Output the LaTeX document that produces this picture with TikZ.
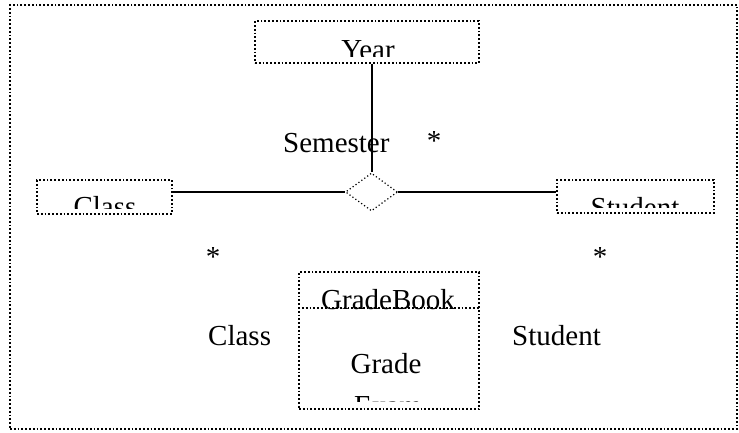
\documentclass[tikz,border=0pt]{standalone}
\usepackage{fontspec}
\setmainfont{Liberation Serif}
\usetikzlibrary{shapes.geometric}

\begin{document}
\begin{tikzpicture}[x=1pt, y=-1pt,
  box/.style={draw, line width=1.8pt, dash pattern=on 1.8pt off 2pt, inner sep=0pt},
  lbl/.style={font=\fontsize{29}{34}\selectfont, anchor=base, inner sep=0pt},
  link/.style={line width=2pt}]
\useasboundingbox (0,0) rectangle (739,432);
\node[box, minimum width=727pt, minimum height=424pt] (frame) at (373.5,217) {};

% classes
\node[box, minimum width=224pt, minimum height=42pt] (year) at (367,42) {};
\node[box, minimum width=135pt, minimum height=34pt] (cls) at (104.5,197) {};
\node[box, minimum width=157pt, minimum height=33pt] (stu) at (635.5,196.5) {};
\node[box, minimum width=180pt, minimum height=137pt] (gb) at (389,340.5) {};
\draw[box] ([yshift=-37pt]gb.north west) -- ([yshift=-37pt]gb.north east);
\node[diamond, draw, line width=1.2pt, dash pattern=on 1.2pt off 2.4pt, inner sep=0pt,
  minimum width=52pt, minimum height=38pt] (dia) at (371.5,192) {};

% names, cut off by the boxes
\begin{scope}
  \clip (year.north west) rectangle ([yshift=7pt]year.south east);
  \node[lbl] (yeartxt) at (368,59) {Year};
\end{scope}
\begin{scope}
  \clip (cls.north west) rectangle ([yshift=6pt]cls.south east);
  \node[lbl] (clstxt) at (105,216) {Class};
\end{scope}
\begin{scope}
  \clip (stu.north west) rectangle ([yshift=6pt]stu.south east);
  \node[lbl] (stutxt) at (635,217) {Student};
\end{scope}
\node[lbl] (gbtxt) at (388,309) {GradeBook};
\begin{scope}
  \clip (gb.north west) rectangle ([yshift=8pt]gb.south east);
  \node[lbl] (grade) at (386,373) {Grade};
  \node[lbl] (exam) at (388,415) {Exam};
\end{scope}

% association
\draw[link] (dia.north |- year.south) -- (dia.north);
\draw[link] (cls.east |- dia.west) -- (dia.west);
\draw[link] (dia.east) -- (stu.west |- dia.east);

% roles and multiplicities
\node[lbl, anchor=base west] (sem) at (283,152) {Semester};
\node[lbl] (msem) at (434,150) {*};
\node[lbl] (mcls) at (213,266) {*};
\node[lbl] (mstu) at (600,266) {*};
\node[lbl, anchor=base west] (rcls) at (208,345) {Class};
\node[lbl, anchor=base west] (rstu) at (512,345) {Student};
\end{tikzpicture}
\end{document}
